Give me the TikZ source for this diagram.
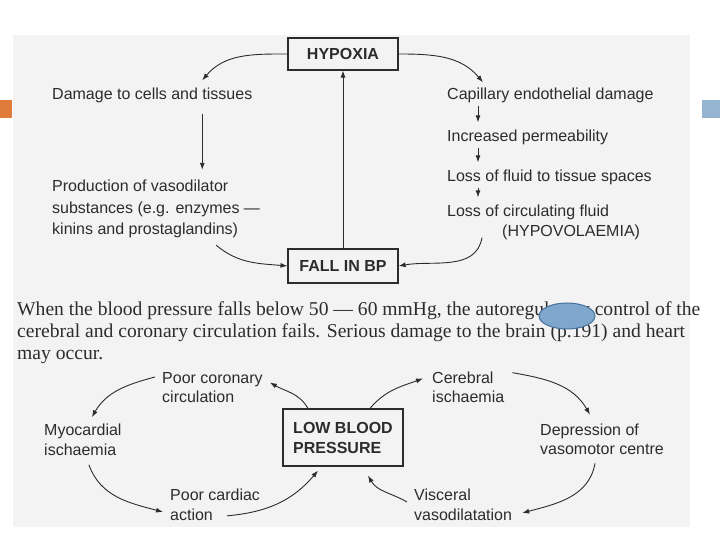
\documentclass[tikz,border=0pt]{standalone}
\usepackage{fontspec}
\setsansfont{Liberation Sans}
\newfontfamily\parafont{Liberation Serif}
\usepackage{tikz}
\usetikzlibrary{arrows.meta,calc,positioning}
\definecolor{ink}{HTML}{2C2C2C}
\definecolor{pagebg}{HTML}{F3F3F3}
\definecolor{accorange}{HTML}{E07B3C}
\definecolor{accblue}{HTML}{94B4D2}
\definecolor{blobfill}{HTML}{7FA6CC}
\definecolor{blobline}{HTML}{46729E}

\begin{document}
\begin{tikzpicture}[
          x=1pt, y=1pt,
          lbl/.style={font=\sffamily\fontsize{16}{19.5}\selectfont, text=ink, inner sep=0pt, align=left, anchor=west},
          hdr/.style={draw=ink, line width=1.1pt, font=\sffamily\bfseries\fontsize{16}{20}\selectfont, text=ink, minimum width=110pt, minimum height=32pt},
          para/.style={font=\parafont\fontsize{19.6}{22}\selectfont, text=ink, inner sep=0pt, align=left, anchor=north west},
          arr/.style={-{Latex[length=7pt,width=5pt]}, line width=0.9pt, draw=ink},
          down/.style={arr, shorten <=3pt, shorten >=7pt}
      ]
        \useasboundingbox (0,0) rectangle (720,540);
        \fill[pagebg] (13,13) rectangle (690,505);
        \fill[accorange] (0,422) rectangle (12,440);
        \fill[accblue] (702,422) rectangle (720,440);

        % hypoxia scheme
        \node[hdr] (hyp) at (343,486) {HYPOXIA};
        \node[hdr, minimum height=34pt] (fall) at (343,274) {FALL IN BP};
        \node[lbl] (damage) at (52,445) {Damage to cells and tissues};
        \node[lbl, font=\sffamily\fontsize{16}{21.5}\selectfont] (prod) at (52,331) {Production of vasodilator\\substances (e.g. enzymes —\\kinins and prostaglandins)};
        \node[lbl] (cap) at (447,445) {Capillary endothelial damage};
        \node[lbl] (perm) at (447,403) {Increased permeability};
        \node[lbl] (losst) at (447,363) {Loss of fluid to tissue spaces};
        \node[lbl, font=\sffamily\fontsize{16}{20}\selectfont] (lossc) at (447,318) {Loss of circulating fluid\\\hspace*{55pt}(HYPOVOLAEMIA)};

        \draw[arr] (hyp.west) to[out=180, in=50] ($(damage.north)+(50,7)$);
        \coordinate (dtop) at ($(damage.south)+(50,-11)$);
        \draw[arr] (dtop) -- ($(dtop |- prod.north)+(0,10)$);
        \draw[arr] ($(prod.south)+(60,-7)$) to[out=-40, in=175] (fall.west);
        \draw[arr] (hyp.east) to[out=0, in=130] ($(cap.north west)+(36,5)$);
        \draw[down] ($(cap.south west)+(31,0)$) -- ($(perm.north west)+(31,0)$);
        \draw[down] ($(perm.south west)+(31,0)$) -- ($(losst.north west)+(31,0)$);
        \draw[down] ($(losst.south west)+(31,0)$) -- ($(lossc.north west)+(31,0)$);
        \draw[arr] ($(lossc.south west)+(35,2)$) to[out=-100, in=10] (fall.east);
        \draw[arr] (fall.north) -- (hyp.south);

        % text between the schemes
        \node[para] (note) at (17,238) {When the blood pressure falls below 50 — 60 mmHg, the autoregulatory control of the\\cerebral and coronary circulation fails. Serious damage to the brain (p.191) and heart\\may occur.};
        \draw[blobline, fill=blobfill, line width=1pt] (567,224) ellipse (28 and 13);

        % low blood pressure cycle
        \node[hdr, minimum width=120pt, minimum height=57pt, align=left] (lbp) at (343,102.5) {LOW BLOOD\\PRESSURE};
        \node[lbl] (coro) at (162,152.5) {Poor coronary\\circulation};
        \node[lbl] (myo) at (44,100) {Myocardial\\ischaemia};
        \node[lbl] (card) at (170,35) {Poor cardiac\\action};
        \node[lbl] (cereb) at (432,152.5) {Cerebral\\ischaemia};
        \node[lbl] (depr) at (540,100.5) {Depression of\\vasomotor centre};
        \node[lbl] (visc) at (414,35) {Visceral\\vasodilatation};

        \draw[arr] ($(lbp.north)+(-35,0)$) to[out=120, in=-30] ($(coro.east)+(7,5)$);
        \draw[arr] ($(coro.north west)+(-7,-5)$) to[out=195, in=60] ($(myo.north)+(9,7)$);
        \draw[arr] ($(myo.south)+(6,-9)$) to[out=-70, in=165] ($(card.west)+(-7,-7)$);
        \draw[arr] ($(card.south west)+(57,5)$) to[out=5, in=-130] ($(lbp.south)+(-25,-4)$);
        \draw[arr] ($(lbp.north)+(27,0)$) to[out=50, in=200] ($(cereb.west)+(-9,9)$);
        \draw[arr] ($(cereb.north east)+(8,-1)$) to[out=-10, in=120] ($(depr.north)+(-12,9)$);
        \draw[arr] ($(depr.south)+(-7,-8)$) to[out=-100, in=15] ($(visc.east)+(10,-8)$);
        \draw[arr] ($(visc.west)+(-7,3)$) to[out=150, in=-60] ($(lbp.south)+(25,-9)$);
      \end{tikzpicture}
\end{document}
